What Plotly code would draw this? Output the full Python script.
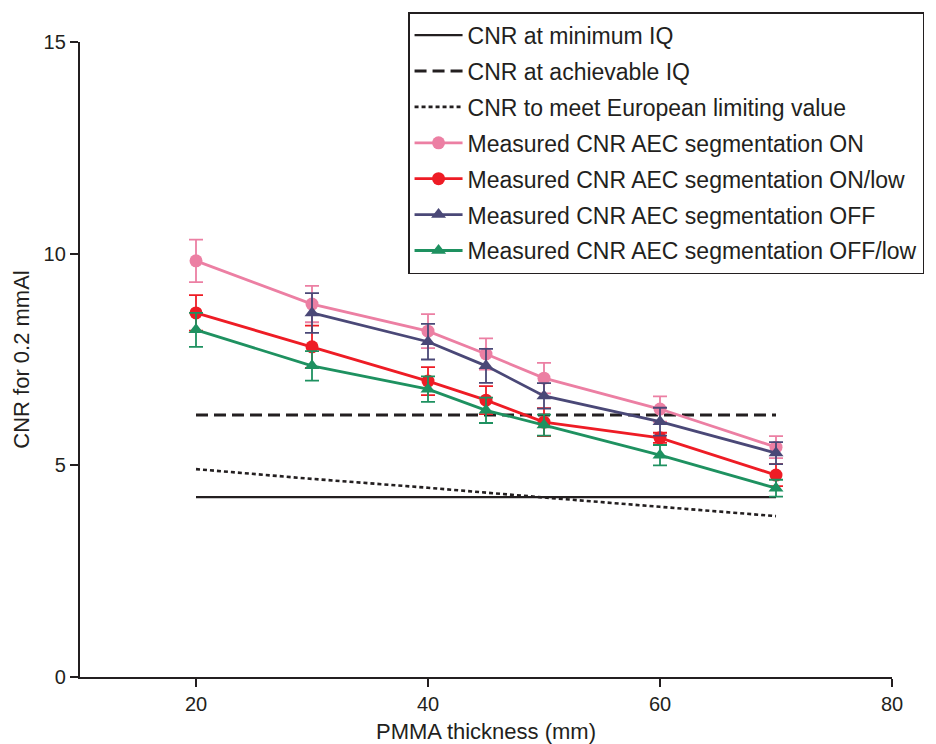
import plotly.graph_objects as go

thickness = [20, 30, 40, 45, 50, 60, 70]

cnr_min_iq = [4.25, 4.25, 4.25, 4.25, 4.25, 4.25, 4.25]
cnr_achievable_iq = [6.19, 6.19, 6.19, 6.19, 6.19, 6.19, 6.19]
cnr_european = [4.91, 4.68, 4.47, 4.35, 4.24, 4.02, 3.80]

seg_on = [9.83, 8.81, 8.17, 7.63, 7.06, 6.33, 5.43]
seg_on_err = [0.50, 0.43, 0.40, 0.37, 0.36, 0.30, 0.26]

seg_on_low = [8.60, 7.80, 6.99, 6.54, 6.02, 5.65, 4.77]
seg_on_low_err = [0.42, 0.50, 0.33, 0.33, 0.33, 0.12, 0.26]

seg_off_x = [30, 40, 45, 50, 60, 70]
seg_off = [8.60, 7.92, 7.35, 6.64, 6.03, 5.29]
seg_off_err = [0.47, 0.42, 0.40, 0.30, 0.33, 0.26]

seg_off_low = [8.20, 7.35, 6.80, 6.30, 5.95, 5.24, 4.46]
seg_off_low_err = [0.40, 0.35, 0.30, 0.30, 0.25, 0.24, 0.20]

dark = "#231F20"

fig = go.Figure()

fig.add_trace(go.Scatter(x=thickness, y=cnr_min_iq, mode="lines",
                         name="CNR at minimum IQ", legendgroup="a",
                         line=dict(color=dark, width=2.4)))
fig.add_trace(go.Scatter(x=thickness, y=cnr_achievable_iq, mode="lines",
                         name="CNR at achievable IQ", legendgroup="b",
                         line=dict(color=dark, width=3, dash="12px,6px")))
fig.add_trace(go.Scatter(x=thickness, y=cnr_european, mode="lines",
                         name="CNR to meet European limiting value", legendgroup="c",
                         line=dict(color=dark, width=2.6, dash="4px,3px")))

def meas(x, y, err, name, color, symbol, grp):
    return go.Scatter(
        x=x, y=y, mode="lines+markers", name=name, legendgroup=grp,
        line=dict(color=color, width=2.8),
        marker=dict(color=color, size=13, symbol=symbol),
        error_y=dict(type="data", array=err, visible=True, color=color,
                     thickness=1.8, width=7),
    )

fig.add_trace(meas(thickness, seg_on, seg_on_err, "Measured CNR AEC segmentation ON",
                   "#EC7FA3", "circle", "d"))
fig.add_trace(meas(thickness, seg_on_low, seg_on_low_err, "Measured CNR AEC segmentation ON/low",
                   "#EE1C25", "circle", "e"))
fig.add_trace(meas(seg_off_x, seg_off, seg_off_err, "Measured CNR AEC segmentation OFF",
                   "#4A4877", "triangle-up", "f"))
fig.add_trace(meas(thickness, seg_off_low, seg_off_low_err, "Measured CNR AEC segmentation OFF/low",
                   "#1E9160", "triangle-up", "g"))

font_family = "Liberation Sans, Arial, sans-serif"

fig.update_layout(
    width=936, height=744,
    margin=dict(l=80, r=44, t=42, b=67),
    paper_bgcolor="white", plot_bgcolor="white",
    font=dict(family=font_family, color=dark, size=20),
    showlegend=True,
    legend=dict(x=0.404, y=1.047, xanchor="left", yanchor="top",
                bordercolor=dark, borderwidth=1.5, bgcolor="white",
                font=dict(size=23, family=font_family), tracegroupgap=3,
                itemwidth=48),
    xaxis=dict(range=[10, 80], tickvals=[20, 40, 60, 80], showgrid=False,
               zeroline=False, showline=True, linecolor=dark, linewidth=2.4,
               ticks="outside", ticklen=8, tickwidth=2, tickcolor=dark,
               automargin=False,
               title=dict(text="PMMA thickness (mm)", font=dict(size=22), standoff=12),
               tickfont=dict(size=20)),
    yaxis=dict(range=[0, 15], tickvals=[0, 5, 10, 15], showgrid=False,
               zeroline=False, showline=True, linecolor=dark, linewidth=2.4,
               ticks="outside", ticklen=8, tickwidth=2, tickcolor=dark,
               automargin=False,
               title=dict(text="CNR for 0.2 mmAl", font=dict(size=22), standoff=8),
               tickfont=dict(size=20)),
)

fig.write_html("out.html")
